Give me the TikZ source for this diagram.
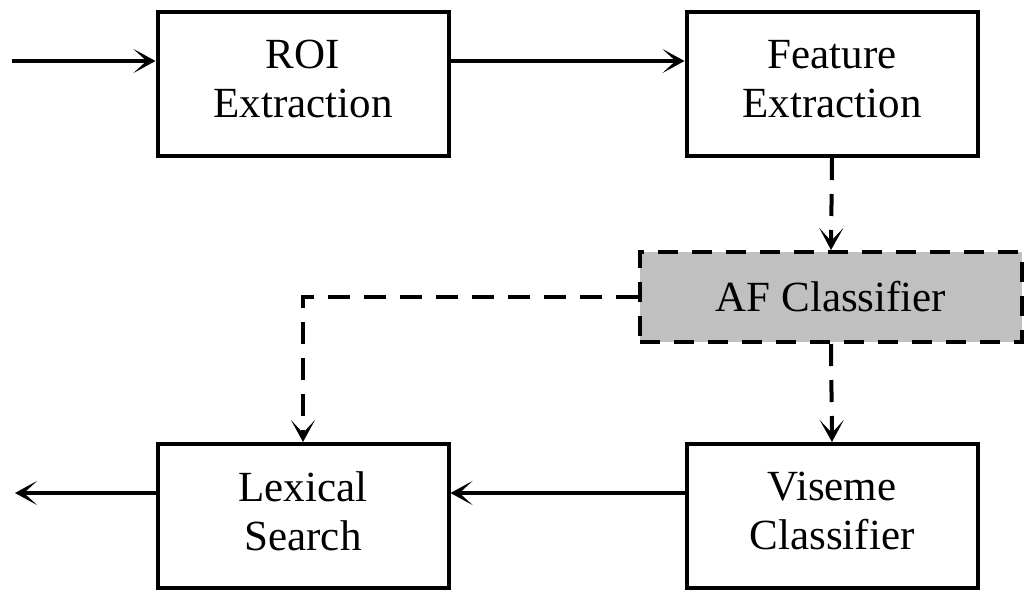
\documentclass[tikz,border=0pt]{standalone}
\usepackage{fontspec}
\setmainfont{Liberation Serif}
\usetikzlibrary{arrows.meta,positioning,calc}
\begin{document}
\begin{tikzpicture}[x=1pt,y=-1pt,
  every node/.style={font=\fontsize{43}{49}\selectfont, align=center},
  block/.style={draw, line width=4pt, minimum width=291pt, minimum height=144pt, inner sep=0pt},
  caption/.style={label={[yshift=5pt, font=\fontsize{43}{49}\selectfont, align=center]center:#1}},
  afblock/.style={draw, line width=4pt, fill={rgb,255:red,192;green,192;blue,192},
    dash pattern=on 20pt off 14pt, minimum width=382pt, minimum height=90pt, inner sep=0pt},
  flow/.style={line width=4pt, -{Stealth[length=22pt,width=24pt,inset=13pt]}},
  dflow/.style={flow, dash pattern=on 22pt off 14pt}]
\useasboundingbox (0,0) rectangle (1027,589);

\node[block, caption={ROI\\Extraction}] (roi) at (303,84) {};
\node[block, caption={Feature\\Extraction}] (feat) at (832,84) {};
\node[afblock] (af) at (831,297) {AF Classifier};
\node[block, caption={Lexical\\Search}] (lex) at (303,516) {};
\node[block, caption={Viseme\\Classifier}] (vis) at (832,516) {};

\coordinate (in) at (12,61);
\coordinate (out) at (15,493);
\coordinate (bend) at (303,297);

\draw[flow] (in) -- (in -| roi.west);
\draw[flow] (in -| roi.east) -- (in -| feat.west);
\draw[dflow] (feat.south) -- (af.north);
\draw[dflow] (af.south) -- (vis.north);
\draw[dflow] (af.west) -- (bend) -- (lex.north);
\draw[flow] (out -| vis.west) -- (out -| lex.east);
\draw[flow] (out -| lex.west) -- (out);
\end{tikzpicture}
\end{document}
